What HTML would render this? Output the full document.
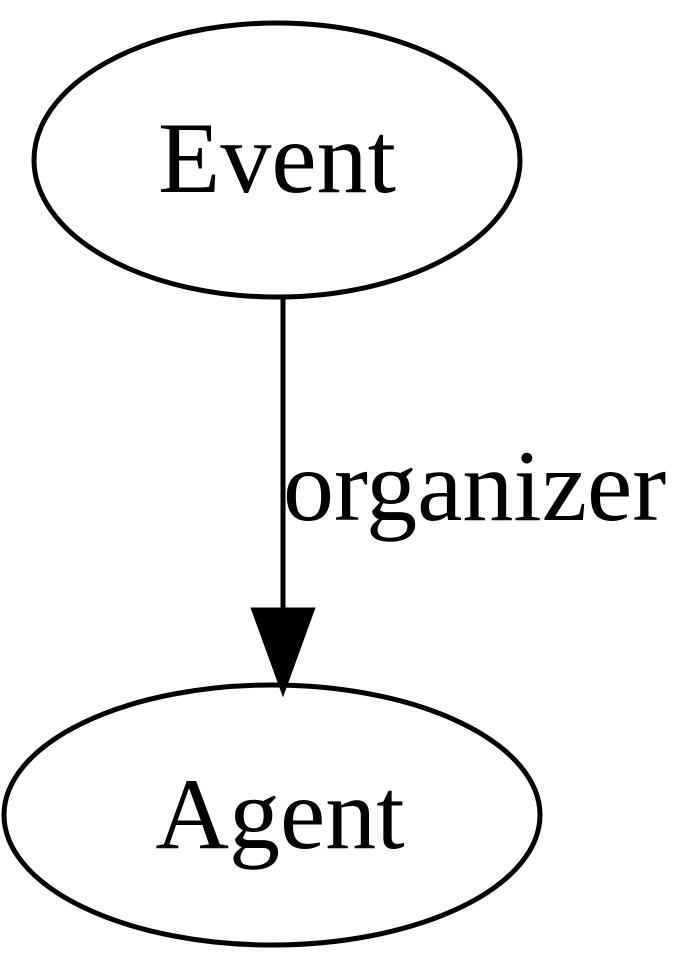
<!DOCTYPE html>
<html><head><style>html,body{margin:0;padding:0;background:#fff;}svg{display:block}</style></head>
<body>
<svg width="700" height="980" viewBox="0 0 700 980" xmlns="http://www.w3.org/2000/svg">
<rect width="700" height="980" fill="#fff"/>
<ellipse cx="277" cy="160" rx="243" ry="137" fill="none" stroke="#000" stroke-width="5"/>
<text x="277" y="192" font-family="Liberation Serif, serif" font-size="102" text-anchor="middle">Event</text>
<line x1="283" y1="297" x2="283" y2="612" stroke="#000" stroke-width="5"/>
<polygon points="254,610 312,610 283,690" fill="#000" stroke="#000" stroke-width="5"/>
<text x="283" y="520" font-family="Liberation Serif, serif" font-size="102">organizer</text>
<ellipse cx="272" cy="815" rx="268" ry="130" fill="none" stroke="#000" stroke-width="5"/>
<text x="280" y="848" font-family="Liberation Serif, serif" font-size="102" text-anchor="middle">Agent</text>
</svg>
</body></html>
